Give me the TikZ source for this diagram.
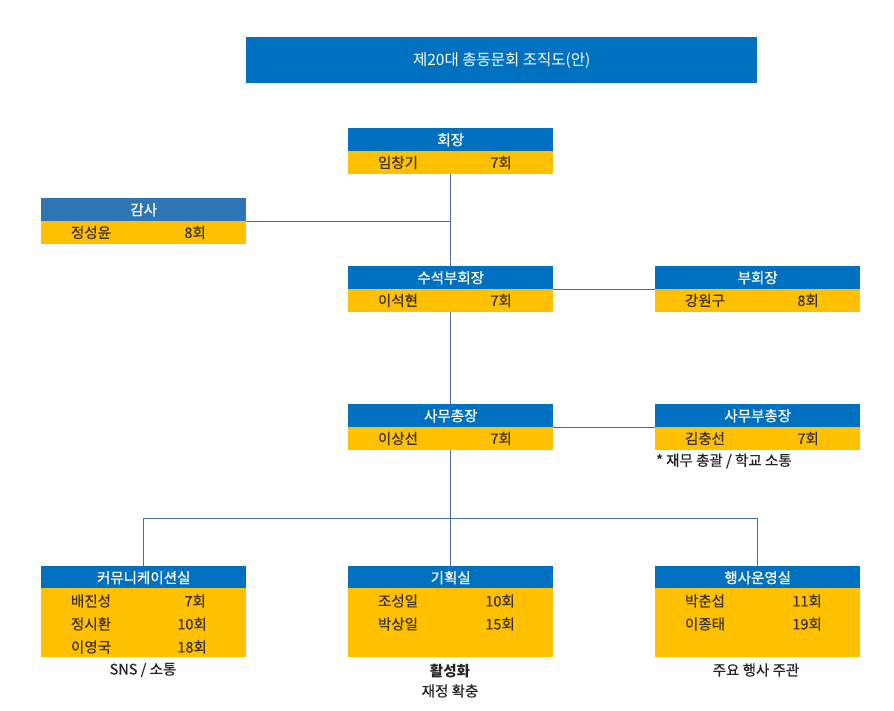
\documentclass[tikz,border=0pt]{standalone}
\usepackage{fontspec}
\setmainfont{Noto Sans CJK KR}
\newfontfamily\kr[FakeBold=0.6]{Noto Sans CJK KR}
\newfontfamily\krt{Noto Sans CJK KR}
\definecolor{hblue}{RGB}{0,112,192}
\definecolor{ablue}{RGB}{46,117,182}
\definecolor{hyel}{RGB}{255,192,0}
\definecolor{dtxt}{RGB}{60,50,30}
\definecolor{ctxt}{RGB}{35,35,35}
\definecolor{lcol}{RGB}{70,110,160}
\tikzset{
  hdr/.style={rectangle, fill=hblue, text=white, minimum width=205pt, minimum height=23pt, inner sep=0pt, anchor=north west, font=\kr\fontsize{14.5}{16}\selectfont},
  bodybox/.style={rectangle, fill=hyel, minimum width=205pt, minimum height=#1, inner sep=0pt, anchor=north west},
  nm/.style={text=dtxt, inner sep=0pt, anchor=center, font=\kr\fontsize{14.5}{16}\selectfont},
  nr/.style={text=dtxt, inner sep=0pt, anchor=east, font=\kr\fontsize{14.5}{16}\selectfont},
  captxt/.style={text=ctxt, inner sep=0pt, anchor=center, font=\kr\fontsize{14.5}{16}\selectfont},
  conn/.style={draw=lcol, line width=0.9pt}
}
\begin{document}
\begin{tikzpicture}[x=1pt,y=-1pt]
\useasboundingbox (0,0) rectangle (894,711);
% title
\node[rectangle, fill=hblue, text=white, minimum width=511pt, minimum height=46pt, inner sep=0pt, anchor=north west, font=\krt\fontsize{15.5}{17}\selectfont] (title) at (246,37) {제20대 총동문회 조직도(안)};
% 회장
\node[hdr] (h1) at (348,128) {회장};
\node[bodybox=23pt] (b1) at (348,151) {};
\node[nm] (n1) at (398,162.5) {임창기};
\node[nr] (r1) at (512,162.5) {7회};
% 감사
\node[hdr, fill=ablue] (h2) at (41,198) {감사};
\node[bodybox=23pt] (b2) at (41,221) {};
\node[nm] (n2) at (91,232.5) {정성윤};
\node[nr] (r2) at (206,232.5) {8회};
% 수석부회장
\node[hdr] (h3) at (348,266) {수석부회장};
\node[bodybox=23pt] (b3) at (348,289) {};
\node[nm] (n3) at (398,300.5) {이석현};
\node[nr] (r3) at (512,300.5) {7회};
% 부회장
\node[hdr] (h4) at (655,266) {부회장};
\node[bodybox=23pt] (b4) at (655,289) {};
\node[nm] (n4) at (705,300.5) {강원구};
\node[nr] (r4) at (819,300.5) {8회};
% 사무총장
\node[hdr] (h5) at (348,404) {사무총장};
\node[bodybox=23pt] (b5) at (348,427) {};
\node[nm] (n5) at (398,438.5) {이상선};
\node[nr] (r5) at (512,438.5) {7회};
% 사무부총장
\node[hdr] (h6) at (655,404) {사무부총장};
\node[bodybox=23pt] (b6) at (655,427) {};
\node[nm] (n6) at (705,438.5) {김충선};
\node[nr] (r6) at (819,438.5) {7회};
\node[captxt, anchor=west] (note6) at (656,461) {* 재무 총괄 / 학교 소통};
% 커뮤니케이션실
\node[hdr] (h7) at (41,566) {커뮤니케이션실};
\node[bodybox=69pt] (b7) at (41,588) {};
\node[nm] (n7a) at (91,601) {배진성};
\node[nr] (r7a) at (206,601) {7회};
\node[nm] (n7b) at (91,624) {정시환};
\node[nr] (r7b) at (207,624) {10회};
\node[nm] (n7c) at (91,647) {이영국};
\node[nr] (r7c) at (207,647) {18회};
\node[captxt] (c7) at (143,670) {SNS / 소통};
% 기획실
\node[hdr] (h8) at (348,566) {기획실};
\node[bodybox=69pt] (b8) at (348,588) {};
\node[nm] (n8a) at (398,601) {조성일};
\node[nr] (r8a) at (515,601) {10회};
\node[nm] (n8b) at (398,624) {박상일};
\node[nr] (r8b) at (515,624) {15회};
\node[captxt, font=\krt\bfseries\fontsize{14.5}{16}\selectfont] (c8a) at (450,671) {활성화};
\node[captxt] (c8b) at (450,691) {재정 확충};
% 행사운영실
\node[hdr] (h9) at (655,566) {행사운영실};
\node[bodybox=69pt] (b9) at (655,588) {};
\node[nm] (n9a) at (705,601) {박춘섭};
\node[nr] (r9a) at (822,601) {11회};
\node[nm] (n9b) at (705,624) {이종태};
\node[nr] (r9b) at (822,624) {19회};
\node[captxt] (c9) at (756,670) {주요 행사 주관};
% connectors
\coordinate (j1) at (450,518);
\draw[conn] (b1.south) -- (h3.north);
\draw[conn] (h2.south east) -- (h2.south east -| b1.south);
\draw[conn] (h3.south east) -- (h4.south west);
\draw[conn] (b3.south) -- (h5.north);
\draw[conn] (h5.south east) -- (h6.south west);
\draw[conn] (b5.south) -- (h8.north);
\draw[conn] (h7.north) -- (j1 -| h7.north) -- (j1 -| h9.north) -- (h9.north);
\end{tikzpicture}
\end{document}
